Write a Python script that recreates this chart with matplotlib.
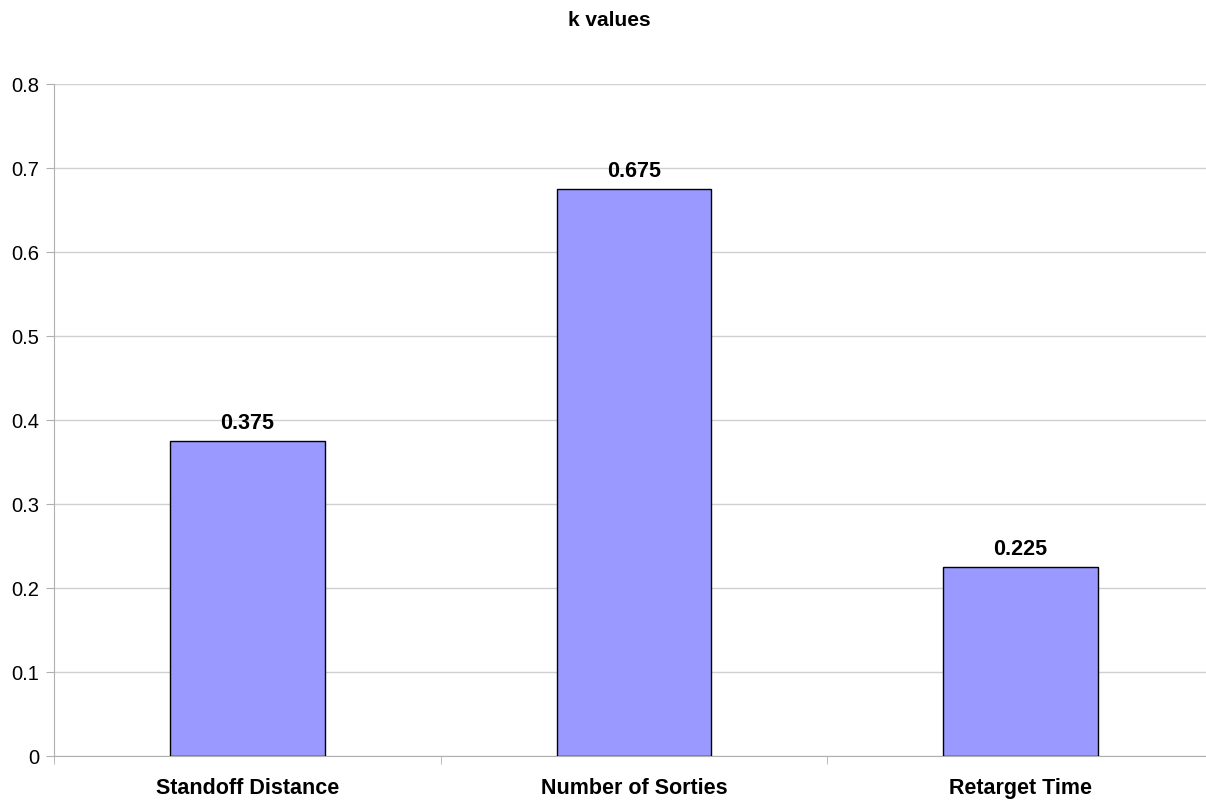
import matplotlib.pyplot as plt
from matplotlib.ticker import FixedLocator

categories = ["Standoff Distance", "Number of Sorties", "Retarget Time"]
k_values = [0.375, 0.675, 0.225]
y_ticks = [0, 0.1, 0.2, 0.3, 0.4, 0.5, 0.6, 0.7, 0.8]
y_tick_labels = ["0", "0.1", "0.2", "0.3", "0.4", "0.5", "0.6", "0.7", "0.8"]

plt.rcParams["font.family"] = ["Liberation Sans", "DejaVu Sans"]

fig = plt.figure(figsize=(12.06, 8.04), dpi=100)
ax = fig.add_axes([54 / 1206, 1 - 757 / 804, 1160 / 1206, (757 - 85) / 804])

x = list(range(len(categories)))
ax.bar(x, k_values, width=0.4, color="#9999FF", edgecolor="black", linewidth=1, zorder=3)

for xi, v in zip(x, k_values):
    ax.text(xi, v + 0.01, f"{v:.3f}", ha="center", va="bottom",
            fontsize=15.5, fontweight="bold", zorder=4)

ax.set_xlim(-0.5, 2.5)
ax.set_ylim(0, 0.8)
ax.set_yticks(y_ticks)
ax.set_yticklabels(y_tick_labels, fontsize=14.5)
ax.yaxis.grid(True, color="#d0d0d0", linewidth=1)
ax.set_axisbelow(True)

# category labels at centres, tick marks at the boundaries
ax.set_xticks(x)
ax.set_xticklabels(categories, fontsize=15.5, fontweight="bold")
ax.tick_params(axis="x", which="major", length=0, pad=15)
ax.xaxis.set_minor_locator(FixedLocator([-0.5, 0.5, 1.5, 2.5]))
ax.tick_params(axis="x", which="minor", length=6, color="#b0b0b0")
ax.tick_params(axis="y", length=6, color="#b0b0b0", pad=4.5)

for side in ["top", "right"]:
    ax.spines[side].set_visible(False)
ax.spines["left"].set_color("#b0b0b0")
ax.spines["bottom"].set_color("#b0b0b0")

fig.text(609 / 1206, 1 - 20 / 804, "k values", ha="center", va="center",
         fontsize=15, fontweight="bold")

fig.savefig("out.png", dpi=100, facecolor="white")
